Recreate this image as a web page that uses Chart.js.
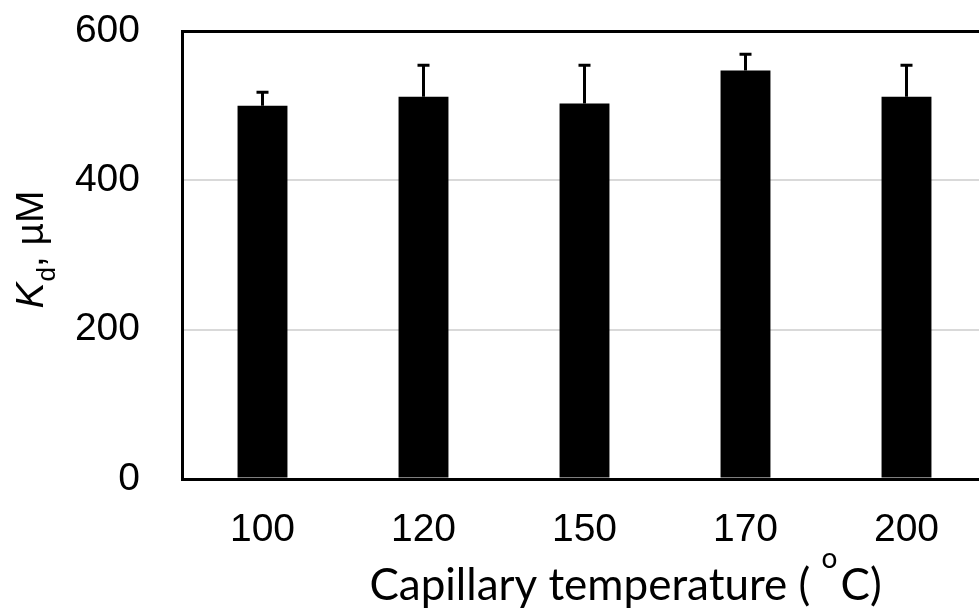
<!DOCTYPE html>
<html>
<head>
<meta charset="utf-8">
<script src="https://cdn.jsdelivr.net/npm/chart.js@4"></script>
<style>
html, body { margin: 0; padding: 0; overflow: hidden; background: #fff; }
#wrap { width: 1000px; height: 609px; }
</style>
</head>
<body>
<div id="wrap"><canvas id="canvas" width="1000" height="609"></canvas></div>
<script>
var temperatures = ["100", "120", "150", "170", "200"];
var kdValues = [500, 512, 503, 547, 512];
var kdErrors = [18, 42, 51, 22, 42];
var yTicks = [0, 200, 400, 600];

// upward-only error bars with a small cap
var errorBars = {
  id: "errorBars",
  afterDatasetsDraw: function (chart) {
    var ctx = chart.ctx;
    var y = chart.scales.y;
    var meta = chart.getDatasetMeta(0);
    ctx.save();
    ctx.strokeStyle = "#000";
    ctx.lineWidth = 3;
    meta.data.forEach(function (bar, i) {
      var top = y.getPixelForValue(kdValues[i] + kdErrors[i]);
      ctx.beginPath();
      ctx.moveTo(bar.x, bar.y);
      ctx.lineTo(bar.x, top);
      ctx.moveTo(bar.x - 6, top);
      ctx.lineTo(bar.x + 6, top);
      ctx.stroke();
    });
    ctx.restore();
  }
};

// axis titles with subscript / superscript pieces
var axisTitles = {
  id: "axisTitles",
  afterDraw: function (chart) {
    var ctx = chart.ctx;
    var area = chart.chartArea;
    ctx.save();
    ctx.fillStyle = "#000";
    ctx.textBaseline = "alphabetic";

    // y title: K_d, µM
    var big = '39px "Liberation Sans"';
    var ital = 'italic 39px "Liberation Sans"';
    var small = '26px "Liberation Sans"';
    ctx.font = ital; var wK = ctx.measureText("K").width;
    ctx.font = small; var wd = ctx.measureText("d").width;
    ctx.font = big; var wr = ctx.measureText(", \u00b5M").width;
    var total = wK + wd + wr;
    ctx.translate(43, (area.top + area.bottom) / 2 - 5);
    ctx.rotate(-Math.PI / 2);
    var sx = -total / 2;
    ctx.font = ital; ctx.fillText("K", sx, 0);
    ctx.font = small; ctx.fillText("d", sx + wK + 1, 12);
    ctx.font = big; ctx.fillText(", \u00b5M", sx + wK + wd + 1, 0);
    ctx.setTransform(1, 0, 0, 1, 0, 0);

    // x title: Capillary temperature ( °C)
    var tf = '44px Lato';
    var sf = '28px Lato';
    ctx.font = tf; var w1 = ctx.measureText("Capillary temperature ( ").width;
    ctx.font = sf; var w2 = ctx.measureText("o").width;
    ctx.font = tf; var w3 = ctx.measureText("C)").width;
    var tx = (area.left + area.right) / 2 + 41 - (w1 + w2 + w3 + 3) / 2;
    var base = 600;
    ctx.font = tf; ctx.fillText("Capillary temperature ( ", tx, base);
    ctx.font = sf; ctx.fillText("o", tx + w1, base - 32);
    ctx.font = tf; ctx.fillText("C)", tx + w1 + w2 + 3, base);
    ctx.restore();
  }
};

var ctx = document.getElementById("canvas").getContext("2d");
var myChart = new Chart(ctx, {
  type: "bar",
  data: {
    labels: temperatures,
    datasets: [
      {
        label: "Kd",
        data: kdValues,
        backgroundColor: "#000",
        borderWidth: 0,
        barPercentage: 0.31,
        categoryPercentage: 1.0,
      },
    ],
  },
  options: {
    responsive: false,
    animation: false,
    devicePixelRatio: 1,
    layout: { padding: { top: 31, right: 13, bottom: 0, left: 0 } },
    plugins: {
      legend: { display: false },
      tooltip: { enabled: false },
    },
    scales: {
      x: {
        afterFit: function (scale) {
          scale.height = 130;
          scale.paddingLeft = 0;
          scale.paddingRight = 0;
        },
        grid: { display: false },
        border: { display: false },
        ticks: {
          color: "#000",
          padding: 20,
          font: { family: '"Liberation Sans"', size: 39 },
        },
      },
      y: {
        min: 0,
        max: 600,
        afterBuildTicks: function (scale) {
          scale.ticks = yTicks.map(function (v) { return { value: v }; });
        },
        afterFit: function (scale) {
          scale.width = 182;
          scale.paddingTop = 0;
          scale.paddingBottom = 0;
        },
        border: { display: true, color: "#000", width: 3 },
        grid: {
          drawTicks: false,
          color: function (c) {
            return c.tick.value === 200 || c.tick.value === 400 ? "#d9d9d9" : "#000";
          },
          lineWidth: function (c) {
            return c.tick.value === 200 || c.tick.value === 400 ? 2 : 3;
          },
        },
        ticks: {
          color: "#000",
          padding: 42,
          font: { family: '"Liberation Sans"', size: 39 },
        },
      },
    },
  },
  plugins: [errorBars, axisTitles],
});
</script>
</body>
</html>
